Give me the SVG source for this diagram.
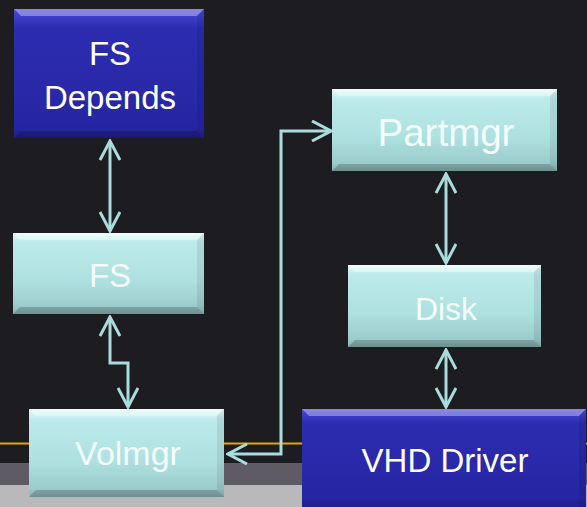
<svg xmlns="http://www.w3.org/2000/svg" width="587" height="507" viewBox="0 0 587 507">
<style>
.lbl{font-family:"Liberation Sans",Arial,sans-serif;fill:#f4fcfc;text-anchor:middle}
.wl{fill:#ffffff}
.conn{fill:none;stroke:#a9dcdc;stroke-width:3;stroke-linejoin:miter}
.bt{fill:#ffffff;fill-opacity:0.35}
.bb{fill:#000000;fill-opacity:0.18}
.bs{fill:#000000;fill-opacity:0.08}
</style>
<defs>
<linearGradient id="cy" x1="0" y1="0" x2="0" y2="1">
<stop offset="0" stop-color="#e6fafa"/>
<stop offset="0.12" stop-color="#bdeaea"/>
<stop offset="0.6" stop-color="#aee0e0"/>
<stop offset="0.9" stop-color="#9ccccc"/>
<stop offset="1" stop-color="#86b0b0"/>
</linearGradient>
<linearGradient id="bl" x1="0" y1="0" x2="0" y2="1">
<stop offset="0" stop-color="#4848d8"/>
<stop offset="0.15" stop-color="#2c2cb0"/>
<stop offset="0.9" stop-color="#2626a4"/>
<stop offset="1" stop-color="#20208c"/>
</linearGradient>
<marker id="ah" viewBox="0 0 22 22" refX="20" refY="11" markerWidth="22" markerHeight="22" markerUnits="userSpaceOnUse" orient="auto-start-reverse">
<path d="M1,1 L20,11 L1,21" fill="none" stroke="#a9dcdc" stroke-width="3"/>
</marker>
</defs>
<rect width="587" height="507" fill="#1d1c21"/>
<rect x="0" y="463" width="587" height="22" fill="#5e5b65"/>
<rect x="0" y="485" width="587" height="22" fill="#b9b9bb"/>
<rect x="0" y="442.5" width="587" height="2" fill="#e2a800"/>
<g id="connectors">
<path class="conn" d="M110,141 V231" marker-start="url(#ah)" marker-end="url(#ah)"/>
<path class="conn" d="M110,317 V363 H128 V407" marker-start="url(#ah)" marker-end="url(#ah)"/>
<path class="conn" d="M228,454 H281 V131 H331" marker-start="url(#ah)" marker-end="url(#ah)"/>
<path class="conn" d="M446,174 V263" marker-start="url(#ah)" marker-end="url(#ah)"/>
<path class="conn" d="M446,350 V407" marker-start="url(#ah)" marker-end="url(#ah)"/>
</g>
<g id="fsdepends">
<rect x="14" y="9" width="190" height="129" fill="url(#bl)"/>
<polygon class="bt" points="14,9 204,9 197,16 21,16"/>
<polygon class="bb" points="14,138 204,138 197,131 21,131"/>
<polygon class="bs" points="204,9 204,138 197,131 197,16"/>
<text class="lbl wl" x="110" y="65" font-size="33">FS</text>
<text class="lbl wl" x="110" y="109" font-size="33">Depends</text>
</g>
<g id="fs">
<rect x="13" y="233" width="191" height="81" fill="url(#cy)"/>
<polygon class="bt" points="13,233 204,233 197,240 20,240"/>
<polygon class="bb" points="13,314 204,314 197,307 20,307"/>
<polygon class="bs" points="204,233 204,314 197,307 197,240"/>
<text class="lbl" x="110" y="287" font-size="33">FS</text>
</g>
<g id="volmgr">
<rect x="29" y="409" width="195" height="88" fill="url(#cy)"/>
<polygon class="bt" points="29,409 224,409 217,416 36,416"/>
<polygon class="bb" points="29,497 224,497 217,490 36,490"/>
<polygon class="bs" points="224,409 224,497 217,490 217,416"/>
<text class="lbl" x="128" y="465" font-size="34">Volmgr</text>
</g>
<g id="partmgr">
<rect x="332" y="89" width="225" height="82" fill="url(#cy)"/>
<polygon class="bt" points="332,89 557,89 550,96 339,96"/>
<polygon class="bb" points="332,171 557,171 550,164 339,164"/>
<polygon class="bs" points="557,89 557,171 550,164 550,96"/>
<text class="lbl" x="446" y="146" font-size="38.5">Partmgr</text>
</g>
<g id="disk">
<rect x="348" y="265" width="193" height="82" fill="url(#cy)"/>
<polygon class="bt" points="348,265 541,265 534,272 355,272"/>
<polygon class="bb" points="348,347 541,347 534,340 355,340"/>
<polygon class="bs" points="541,265 541,347 534,340 534,272"/>
<text class="lbl" x="446" y="320" font-size="32">Disk</text>
</g>
<g id="vhddriver">
<rect x="302" y="409" width="284" height="98" fill="url(#bl)"/>
<polygon class="bt" points="302,409 586,409 579,416 309,416"/>
<polygon class="bs" points="586,409 586,507 579,507 579,416"/>
<text class="lbl wl" x="445" y="472" font-size="33">VHD Driver</text>
</g>
</svg>
